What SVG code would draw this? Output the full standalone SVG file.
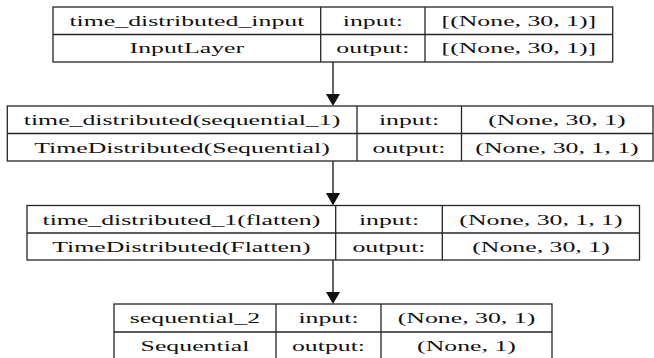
<svg xmlns="http://www.w3.org/2000/svg" width="654" height="358" viewBox="0 0 654 358">
<style>
.box{fill:#fff;stroke:#262626;stroke-width:1.3}
.ln{stroke:#262626;stroke-width:1.3;fill:none}
.t{font-family:"Liberation Serif","Times New Roman",serif;font-size:15.5px;fill:#111;text-anchor:middle}
.edge{stroke:#111;stroke-width:1.3;fill:none}
.head{fill:#111;stroke:none}
</style>
<rect width="654" height="358" fill="#fff"/>
<g id="connectors">
<line class="edge" x1="333" y1="62" x2="333" y2="95"/>
<polygon class="head" points="326,94 340,94 333,106"/>
<line class="edge" x1="333" y1="161" x2="333" y2="194"/>
<polygon class="head" points="326,193 340,193 333,205.5"/>
<line class="edge" x1="333" y1="260" x2="333" y2="293"/>
<polygon class="head" points="326,292 340,292 333,304"/>
</g>
<g id="node_time_distributed_input">
<rect class="box" x="53" y="7" width="559.7" height="55"/>
<line class="ln" x1="53" y1="34.5" x2="612.7" y2="34.5"/>
<line class="ln" x1="320.7" y1="7" x2="320.7" y2="62"/>
<line class="ln" x1="425" y1="7" x2="425" y2="62"/>
<text class="t" transform="scale(1.665,1)" x="112.25" y="26">time_distributed_input</text>
<text class="t" transform="scale(1.665,1)" x="223.96" y="26">input:</text>
<text class="t" transform="scale(1.665,1)" x="311.65" y="26">[(None, 30, 1)]</text>
<text class="t" transform="scale(1.665,1)" x="112.25" y="53.5">InputLayer</text>
<text class="t" transform="scale(1.665,1)" x="223.96" y="53.5">output:</text>
<text class="t" transform="scale(1.665,1)" x="311.65" y="53.5">[(None, 30, 1)]</text>
</g>
<g id="node_time_distributed">
<rect class="box" x="7.3" y="106" width="645.7" height="55"/>
<line class="ln" x1="7.3" y1="133.5" x2="653" y2="133.5"/>
<line class="ln" x1="357" y1="106" x2="357" y2="161"/>
<line class="ln" x1="461.5" y1="106" x2="461.5" y2="161"/>
<text class="t" transform="scale(1.665,1)" x="109.31" y="125.2">time_distributed(sequential_1)</text>
<text class="t" transform="scale(1.665,1)" x="245.65" y="125.2">input:</text>
<text class="t" transform="scale(1.665,1)" x="334.53" y="125.2">(None, 30, 1)</text>
<text class="t" transform="scale(1.665,1)" x="109.31" y="152.7">TimeDistributed(Sequential)</text>
<text class="t" transform="scale(1.665,1)" x="245.65" y="152.7">output:</text>
<text class="t" transform="scale(1.665,1)" x="334.53" y="152.7">(None, 30, 1, 1)</text>
</g>
<g id="node_time_distributed_1">
<rect class="box" x="27" y="205.5" width="612.5" height="54.5"/>
<line class="ln" x1="27" y1="233" x2="639.5" y2="233"/>
<line class="ln" x1="335.7" y1="205.5" x2="335.7" y2="260"/>
<line class="ln" x1="442.3" y1="205.5" x2="442.3" y2="260"/>
<text class="t" transform="scale(1.665,1)" x="108.95" y="224.7">time_distributed_1(flatten)</text>
<text class="t" transform="scale(1.665,1)" x="233.63" y="224.7">input:</text>
<text class="t" transform="scale(1.665,1)" x="324.92" y="224.7">(None, 30, 1, 1)</text>
<text class="t" transform="scale(1.665,1)" x="108.95" y="252">TimeDistributed(Flatten)</text>
<text class="t" transform="scale(1.665,1)" x="233.63" y="252">output:</text>
<text class="t" transform="scale(1.665,1)" x="324.92" y="252">(None, 30, 1)</text>
</g>
<g id="node_sequential_2">
<rect class="box" x="114" y="304" width="438" height="55.5"/>
<line class="ln" x1="114" y1="332" x2="552" y2="332"/>
<line class="ln" x1="276" y1="304" x2="276" y2="359.5"/>
<line class="ln" x1="381" y1="304" x2="381" y2="359.5"/>
<text class="t" transform="scale(1.665,1)" x="117.12" y="323.5">sequential_2</text>
<text class="t" transform="scale(1.665,1)" x="197.3" y="323.5">input:</text>
<text class="t" transform="scale(1.665,1)" x="280.18" y="323.5">(None, 30, 1)</text>
<text class="t" transform="scale(1.665,1)" x="117.12" y="351">Sequential</text>
<text class="t" transform="scale(1.665,1)" x="197.3" y="351">output:</text>
<text class="t" transform="scale(1.665,1)" x="280.18" y="351">(None, 1)</text>
</g>
</svg>
